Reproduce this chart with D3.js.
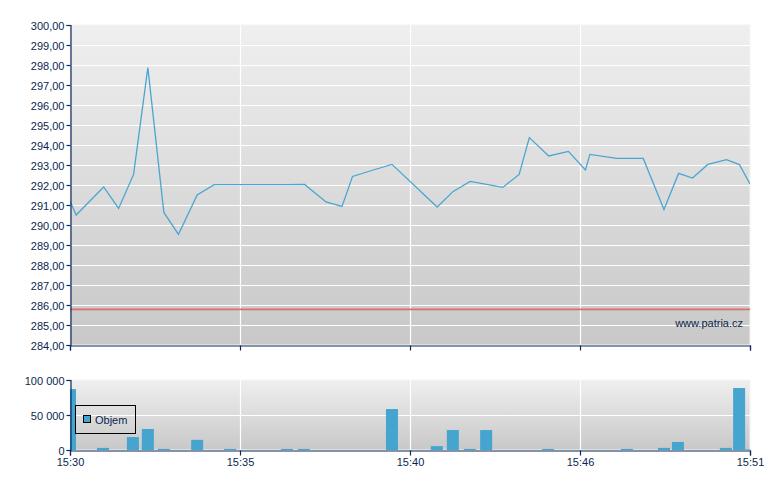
<!DOCTYPE html>
<html><head><meta charset="utf-8">
<script src="https://cdn.jsdelivr.net/npm/d3@7"></script>
<style>
body{margin:0;background:#fff;}
text{font-family:"Liberation Sans",Arial,sans-serif;font-size:11px;fill:#0b1f4e;}
</style></head>
<body>
<svg id="chart" width="780" height="490"></svg>
<script>
// ---- data ----
const xTickPos = [0, 5, 10, 15, 20];
const xTickLabels = ["15:30", "15:35", "15:40", "15:46", "15:51"];
const priceT = [0, 0.18, 0.99, 1.43, 1.87, 2.29, 2.76, 3.19, 3.74, 4.24, 6.38, 6.9, 7.53, 8.0, 8.31, 8.92, 9.47, 10.8, 11.27, 11.77, 12.73, 13.21, 13.51, 14.08, 14.66, 15.16, 15.29, 16.08, 16.86, 17.47, 17.9, 18.31, 18.76, 19.31, 19.69, 20.0];
const priceV = [291.2, 290.5, 291.9, 290.83, 292.53, 297.87, 290.63, 289.53, 291.5, 292.02, 292.02, 292.03, 291.15, 290.93, 292.43, 292.75, 293.03, 290.9, 291.68, 292.18, 291.88, 292.53, 294.37, 293.45, 293.68, 292.75, 293.53, 293.33, 293.33, 290.78, 292.58, 292.35, 293.03, 293.27, 293.02, 292.05];
const refPrice = 285.78;
const volT = [0, 0.97, 1.85, 2.29, 2.76, 3.74, 4.71, 6.38, 6.88, 9.47, 10.79, 11.26, 11.76, 12.24, 14.06, 16.38, 17.47, 17.88, 19.29, 19.68, 20.03];
const volV = [87000, 3000, 18500, 30000, 1500, 14500, 1500, 1500, 1500, 58500, 5500, 28500, 1500, 28500, 1500, 1500, 3000, 11500, 3000, 88500, 1000];
const priceTicks = d3.range(284, 301, 1);
const volTicks = [0, 50000, 100000];
const volTickLabels = ["0", "50 000", "100 000"];
const legendLabel = "Objem";
const watermark = "www.patria.cz";

// ---- layout ----
const L = 70, R = 750;
const mainTop = 25, mainBot = 345;
const volTop = 380, volBot = 450;
const axisColor = "#0d2a5c";
const lineColor = "#4aa6d1";
const barColor = "#45a5cf";

const svg = d3.select("#chart");
const defs = svg.append("defs");
const grad = defs.append("linearGradient").attr("id", "bg").attr("x1", 0).attr("y1", 0).attr("x2", 0).attr("y2", 1);
grad.append("stop").attr("offset", "0%").attr("stop-color", "#efefef");
grad.append("stop").attr("offset", "100%").attr("stop-color", "#c8c8c8");
defs.append("clipPath").attr("id", "clipMain").append("rect").attr("x", L).attr("y", mainTop).attr("width", R - L).attr("height", mainBot - mainTop);
defs.append("clipPath").attr("id", "clipVol").append("rect").attr("x", L).attr("y", volTop).attr("width", R - L).attr("height", volBot - volTop);

const x = d3.scaleLinear().domain([0, 20]).range([L, R]);
const y = d3.scaleLinear().domain([284, 300]).range([mainBot, mainTop]);
const yv = d3.scaleLinear().domain([0, 100000]).range([volBot, volTop]);

// ---- main panel ----
svg.append("rect").attr("x", L).attr("y", mainTop).attr("width", R - L).attr("height", mainBot - mainTop).attr("fill", "url(#bg)");
svg.append("rect").attr("x", L).attr("y", mainTop).attr("width", R - L).attr("height", mainBot - mainTop).attr("fill", "none").attr("stroke", "#f4f4f4").attr("stroke-width", 1);
const gMain = svg.append("g");
gMain.selectAll("line.h").data(priceTicks.slice(1, -1)).join("line")
  .attr("x1", L).attr("x2", R).attr("y1", d => Math.round(y(d)) + 0.5).attr("y2", d => Math.round(y(d)) + 0.5)
  .attr("stroke", "#fff").attr("stroke-width", 1.2);
gMain.selectAll("line.v").data(xTickPos.slice(1, -1)).join("line")
  .attr("y1", mainTop).attr("y2", mainBot).attr("x1", d => Math.round(x(d)) + 0.5).attr("x2", d => Math.round(x(d)) + 0.5)
  .attr("stroke", "#fff").attr("stroke-width", 1.2);

svg.append("line").attr("x1", L).attr("x2", R).attr("y1", y(refPrice)).attr("y2", y(refPrice))
  .attr("stroke", "#d9706f").attr("stroke-width", 1.6);

const line = d3.line().x((d, i) => x(priceT[i])).y(d => y(d));
svg.append("path").datum(priceV).attr("d", line).attr("fill", "none")
  .attr("stroke", lineColor).attr("stroke-width", 1.3).attr("clip-path", "url(#clipMain)");

svg.append("text").attr("x", 743).attr("y", 327).attr("text-anchor", "end").text(watermark);

// axes main
const yAxis = d3.axisLeft(y).tickValues(priceTicks).tickSize(4).tickPadding(2)
  .tickFormat(d => d.toFixed(2).replace(".", ","));
const gy = svg.append("g").attr("transform", `translate(${L + 0.5},0)`).call(yAxis);
const xAxisMain = d3.axisBottom(x).tickValues(xTickPos).tickSize(5).tickFormat("");
const gxm = svg.append("g").attr("transform", `translate(0,${mainBot + 0.5})`).call(xAxisMain);

// ---- volume panel ----
svg.append("rect").attr("x", L).attr("y", volTop).attr("width", R - L).attr("height", volBot - volTop).attr("fill", "url(#bg)");
svg.append("rect").attr("x", L).attr("y", volTop).attr("width", R - L).attr("height", volBot - volTop).attr("fill", "none").attr("stroke", "#f4f4f4").attr("stroke-width", 1);
svg.append("g").selectAll("line").data([50000]).join("line")
  .attr("x1", L).attr("x2", R).attr("y1", d => Math.round(yv(d)) + 0.5).attr("y2", d => Math.round(yv(d)) + 0.5)
  .attr("stroke", "#fff").attr("stroke-width", 1.2);
svg.append("g").selectAll("line").data(xTickPos.slice(1, -1)).join("line")
  .attr("y1", volTop).attr("y2", volBot).attr("x1", d => Math.round(x(d)) + 0.5).attr("x2", d => Math.round(x(d)) + 0.5)
  .attr("stroke", "#fff").attr("stroke-width", 1.2);

const bw = x(0.353) - x(0);
svg.append("g").attr("clip-path", "url(#clipVol)").selectAll("rect").data(volV).join("rect")
  .attr("x", (d, i) => x(volT[i]) - bw / 2).attr("width", bw)
  .attr("y", d => yv(d)).attr("height", d => volBot - yv(d))
  .attr("fill", barColor);

const yvAxis = d3.axisLeft(yv).tickValues(volTicks).tickSize(4).tickPadding(2)
  .tickFormat((d, i) => volTickLabels[i]);
const gyv = svg.append("g").attr("transform", `translate(${L + 0.5},0)`).call(yvAxis);
const xAxisVol = d3.axisBottom(x).tickValues(xTickPos).tickSize(5).tickPadding(3)
  .tickFormat((d, i) => xTickLabels[i]);
const gxv = svg.append("g").attr("transform", `translate(0,${volBot + 0.5})`).call(xAxisVol);

[gy, gxm, gyv, gxv].forEach(g => {
  g.selectAll("path.domain").attr("stroke", axisColor).attr("stroke-width", 1.2);
  g.selectAll(".tick line").attr("stroke", axisColor).attr("stroke-width", 1.2);
  g.selectAll("text").attr("fill", "#0b1f4e").style("font-size", "11px").style("font-family", "'Liberation Sans', Arial, sans-serif");
});
gy.selectAll("text").attr("dy", "0.45em");
gyv.selectAll("text").attr("dy", "0.45em");

// legend
const lg = svg.append("g");
lg.append("rect").attr("x", 75.5).attr("y", 405.5).attr("width", 60).attr("height", 28).attr("fill", "none").attr("stroke", "#000").attr("stroke-width", 1);
lg.append("rect").attr("x", 83.5).attr("y", 415.5).attr("width", 7).attr("height", 7).attr("fill", barColor).attr("stroke", "#000").attr("stroke-width", 1);
lg.append("text").attr("x", 95).attr("y", 424).text(legendLabel);
</script>
</body></html>
